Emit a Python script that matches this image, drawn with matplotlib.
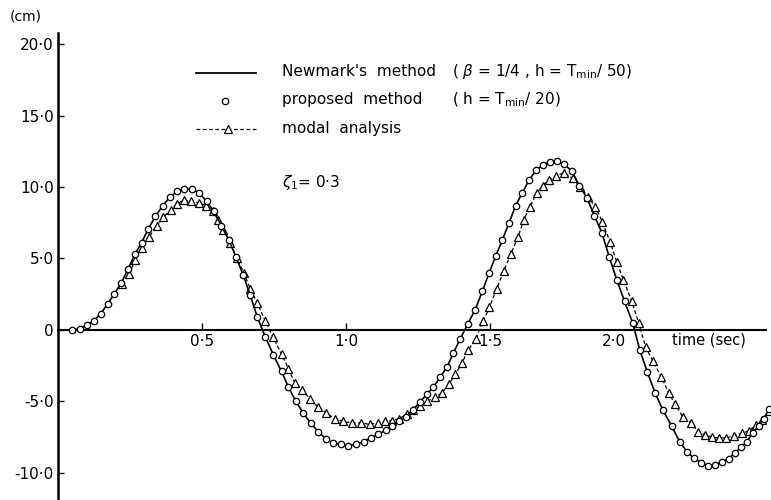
import numpy as np
import matplotlib.pyplot as plt
from matplotlib.transforms import ScaledTranslation

# proposed method (h = Tmin/20): displacement at each step, cm
proposed_t = [
    0.05, 0.075, 0.10, 0.125, 0.148, 0.172, 0.196, 0.22, 0.244, 0.267,
    0.29, 0.313, 0.338, 0.364, 0.389, 0.413, 0.438, 0.464, 0.49, 0.516,
    0.541, 0.567, 0.593, 0.618, 0.643, 0.667, 0.692, 0.72, 0.748, 0.776,
    0.80, 0.826, 0.851, 0.877, 0.903, 0.929, 0.955, 0.982, 1.008, 1.035,
    1.061, 1.087, 1.112, 1.137, 1.16, 1.183, 1.207, 1.232, 1.256, 1.28,
    1.303, 1.327, 1.35, 1.373, 1.397, 1.422, 1.448, 1.473, 1.497, 1.52,
    1.543, 1.566, 1.589, 1.612, 1.636, 1.661, 1.684, 1.707, 1.731, 1.757,
    1.784, 1.81, 1.837, 1.862, 1.888, 1.914, 1.94, 1.967, 1.995, 2.02,
    2.046, 2.073, 2.10, 2.13, 2.158, 2.183, 2.207, 2.234, 2.258, 2.282,
    2.305, 2.328, 2.35, 2.371, 2.392, 2.412, 2.432, 2.45, 2.47,
]
proposed_y = [
    0.0, 0.1, 0.35, 0.65, 1.15, 1.8, 2.55, 3.3, 4.3, 5.3,
    6.1, 7.05, 7.95, 8.7, 9.3, 9.7, 9.85, 9.85, 9.6, 9.0,
    8.3, 7.3, 6.3, 5.1, 3.85, 2.45, 0.9, -0.5, -1.75, -2.9,
    -4.0, -5.0, -5.8, -6.5, -7.1, -7.6, -7.9, -8.0, -8.1, -8.0,
    -7.8, -7.55, -7.3, -7.0, -6.7, -6.4, -6.1, -5.6, -5.05, -4.5,
    -4.0, -3.3, -2.6, -1.6, -0.6, 0.4, 1.4, 2.7, 4.0, 5.2,
    6.3, 7.5, 8.7, 9.6, 10.5, 11.2, 11.55, 11.75, 11.8, 11.6,
    11.1, 10.1, 9.2, 8.0, 6.8, 5.1, 3.5, 2.0, 0.5, -1.4,
    -2.95, -4.4, -5.6, -6.7, -7.8, -8.5, -8.95, -9.3, -9.5, -9.45,
    -9.2, -9.0, -8.6, -8.2, -7.8, -7.2, -6.7, -6.2, -5.5,
]

# Newmark's method (beta = 1/4, h = Tmin/50) runs through the same values
newmark_t = proposed_t
newmark_y = proposed_y

# modal analysis
modal_t = [
    0.222, 0.246, 0.268, 0.29, 0.316, 0.343, 0.366, 0.391, 0.414, 0.436,
    0.463, 0.489, 0.515, 0.538, 0.556, 0.574, 0.598, 0.622, 0.645, 0.667,
    0.692, 0.72, 0.747, 0.776, 0.80, 0.822, 0.847, 0.875, 0.902, 0.932,
    0.96, 0.99, 1.022, 1.052, 1.082, 1.11, 1.135, 1.16, 1.185, 1.21,
    1.234, 1.257, 1.28, 1.31, 1.333, 1.356, 1.38, 1.402, 1.425, 1.45,
    1.476, 1.498, 1.523, 1.547, 1.572, 1.597, 1.617, 1.638, 1.662, 1.683,
    1.705, 1.73, 1.758, 1.787, 1.813, 1.84, 1.866, 1.89, 1.917, 1.94,
    1.963, 1.992, 2.016, 2.04, 2.066, 2.095, 2.12, 2.143, 2.17, 2.197,
    2.222, 2.247, 2.27, 2.295, 2.32, 2.347, 2.375, 2.40, 2.422, 2.445,
    2.468,
]
modal_y = [
    3.2, 3.9, 4.9, 5.7, 6.5, 7.3, 7.9, 8.4, 8.8, 9.1,
    9.0, 8.9, 8.7, 8.3, 7.7, 7.0, 6.1, 5.0, 4.0, 2.9,
    1.9, 0.6, -0.5, -1.7, -2.7, -3.7, -4.2, -4.8, -5.4, -5.8,
    -6.2, -6.4, -6.5, -6.5, -6.6, -6.5, -6.4, -6.35, -6.2, -5.9,
    -5.6, -5.3, -5.0, -4.7, -4.4, -3.8, -3.1, -2.3, -1.4, -0.6,
    0.6, 1.6, 2.9, 4.1, 5.3, 6.5, 7.7, 8.6, 9.6, 10.1,
    10.5, 10.8, 11.0, 10.6, 10.0, 9.3, 8.6, 7.55, 6.15, 4.75,
    3.5, 2.0, 0.5, -1.2, -2.2, -3.3, -4.4, -5.2, -6.1, -6.5,
    -7.1, -7.35, -7.5, -7.55, -7.55, -7.4, -7.2, -7.05, -6.65, -6.3,
    -5.7,
]

yticks = [20, 15, 10, 5, 0, -5, -10]
ytick_labels = ["20·0", "15·0", "10·0", "5·0", "0", "-5·0", "-10·0"]
xticks = [0.5, 1.0, 1.5, 2.0]
xtick_labels = ["0·5", "1·0", "1·5", "2·0"]

plt.rcParams['font.family'] = ['DejaVu Sans']
plt.rcParams['mathtext.fontset'] = 'dejavusans'

fig = plt.figure(figsize=(7.71, 5.0), dpi=100)
ax = fig.add_axes([58 / 771, 0.0, (766 - 58) / 771, 467 / 500])
ax.set_xlim(0, 2.458)
ax.set_ylim(-11.89, 20.77)

ax.spines['top'].set_visible(False)
ax.spines['right'].set_visible(False)
ax.spines['bottom'].set_position(('data', 0))
ax.spines['left'].set_linewidth(1.8)
ax.spines['bottom'].set_linewidth(1.5)

ax.set_yticks(yticks)
ax.set_yticklabels(ytick_labels)
ax.set_xticks(xticks)
ax.set_xticklabels(xtick_labels)
ax.tick_params(axis='y', direction='in', length=4, width=1.0, pad=3, labelsize=11)
ax.tick_params(axis='x', direction='in', length=5, width=1.0, pad=3, labelsize=11)
# 2.0 label sits a little to the left of its tick
ax.get_xticklabels()[-1].set_transform(
    ax.get_xticklabels()[-1].get_transform() + ScaledTranslation(-0.2, 0, fig.dpi_scale_trans))

# curves
ax.plot(newmark_t, newmark_y, color='black', lw=1.2, clip_on=False, zorder=3)
ax.plot(proposed_t, proposed_y, linestyle='none', marker='o', ms=4.6,
        mfc='white', mec='black', mew=0.9, clip_on=False, zorder=4)
ax.plot(modal_t, modal_y, color='black', lw=0.9, dashes=(3, 2), marker='^',
        ms=5.2, mfc='white', mec='black', mew=0.9, clip_on=False, zorder=2)

# key
ax.plot([0.479, 0.6875], [18.0, 18.0], color='black', lw=1.3)
ax.plot([0.58], [16.0], linestyle='none', marker='o', ms=4.6,
        mfc='white', mec='black', mew=0.9)
ax.plot([0.479, 0.6875], [14.05, 14.05], color='black', lw=0.9, dashes=(3, 2))
ax.plot([0.59], [14.05], linestyle='none', marker='^', ms=5.2,
        mfc='white', mec='black', mew=0.9)

ax.text(0.778, 18.1, "Newmark's  method", fontsize=11, va='center', ha='left')
ax.text(1.368, 18.1, r"( $\beta$ = 1/4 , h = T$_{\rm min}$/ 50)", fontsize=11,
        va='center', ha='left')
ax.text(0.778, 16.1, "proposed  method", fontsize=11, va='center', ha='left')
ax.text(1.368, 16.1, r"( h = T$_{\rm min}$/ 20)", fontsize=11, va='center', ha='left')
ax.text(0.778, 14.1, "modal  analysis", fontsize=11, va='center', ha='left')

ax.text(0.778, 10.3, r"$\zeta_1$= 0·3", fontsize=11, va='center', ha='left')

ax.text(2.13, -0.7, "time (sec)", fontsize=10.5, va='center', ha='left')
fig.text(10 / 771, 1 - 17 / 500, "(cm)", fontsize=10, va='center', ha='left')

fig.savefig("out.png", dpi=100, facecolor='white')
